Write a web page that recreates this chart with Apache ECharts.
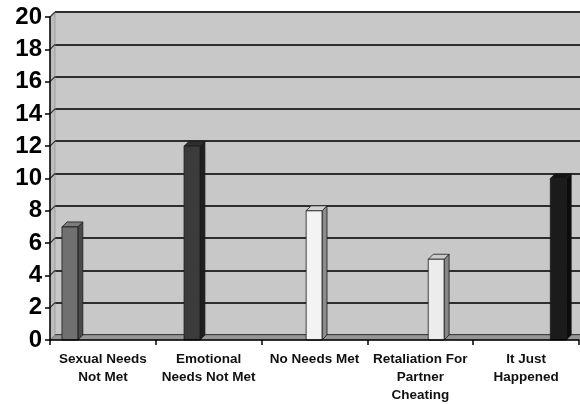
<!DOCTYPE html>
<html>
<head>
<meta charset="utf-8">
<script src="https://cdn.jsdelivr.net/npm/echarts@6/dist/echarts.min.js"></script>
<style>
  html, body { margin: 0; padding: 0; background: #ffffff; }
  #chart { width: 580px; height: 404px; }
</style>
</head>
<body>
<div id="chart"></div>
<script>
// Reasons given, one bar per reason
const categories = [
  'Sexual Needs\nNot Met',
  'Emotional\nNeeds Not Met',
  'No Needs Met',
  'Retaliation For\nPartner\nCheating',
  'It Just\nHappened'
];
const values = [7, 12, 8, 5, 10];
const yTicks = [0, 2, 4, 6, 8, 10, 12, 14, 16, 18, 20];

// front / side / top shades for each bar
const frontColors = ['#707070', '#3b3b3b', '#f3f3f3', '#ececec', '#1b1b1b'];
const sideColors  = ['#4a4a4a', '#1f1f1f', '#8c8c8c', '#868686', '#0c0c0c'];
const topColors   = ['#7c7c7c', '#2e2e2e', '#d2d2d2', '#cacaca', '#141414'];

const DEPTH = 5;          // 3D depth offset in pixels
const SLOT_START = 0.113; // first bar's offset inside a category (fraction)
const SLOT = 0.154;       // slot width per series (fraction of category)
const BAR_W = 0.15;       // front face width (fraction of category)

const chart = echarts.init(document.getElementById('chart'), null, { renderer: 'canvas' });

function renderBar(params, api) {
  const cat = api.value(0);
  const val = api.value(1);
  const s = api.value(2);
  const catW = api.size([1, 0])[0];
  const base = api.coord([cat, 0]);
  const top = api.coord([cat, val]);
  const x0 = base[0] - catW / 2 + catW * SLOT_START + s * catW * SLOT;
  const w = catW * BAR_W;
  const yb = base[1], yt = top[1], d = DEPTH;
  const stroke = { stroke: '#1a1a1a', lineWidth: 0.8 };
  return {
    type: 'group',
    children: [
      {
        type: 'polygon',
        shape: { points: [[x0 + w, yt], [x0 + w + d, yt - d], [x0 + w + d, yb - d], [x0 + w, yb]] },
        style: Object.assign({ fill: sideColors[s] }, stroke)
      },
      {
        type: 'polygon',
        shape: { points: [[x0, yt], [x0 + d, yt - d], [x0 + w + d, yt - d], [x0 + w, yt]] },
        style: Object.assign({ fill: topColors[s] }, stroke)
      },
      {
        type: 'rect',
        shape: { x: x0, y: yt, width: w, height: yb - yt },
        style: Object.assign({ fill: frontColors[s] }, stroke)
      }
    ]
  };
}

// floor and left side wall of the box, plus the side-wall grid lines
function renderFrame(params, api) {
  const v = api.value(0);
  const catW = api.size([1, 0])[0];
  const p0 = api.coord([0, 0]);
  const pv = api.coord([0, v]);
  const xs = p0[0] - catW / 2;
  const d = DEPTH;
  const children = [];
  if (params.dataIndex === 0) {
    const pTop = api.coord([0, 20]);
    const pEnd = api.coord([categories.length - 1, 0]);
    const xe = pEnd[0] + catW / 2;
    children.push({
      type: 'polygon',
      shape: { points: [[xs, pTop[1]], [xs + d, pTop[1] - d], [xs + d, p0[1] - d], [xs, p0[1]]] },
      style: { fill: '#bdbdbd', stroke: '#8a8a8a', lineWidth: 0.6 }
    });
    children.push({
      type: 'polygon',
      shape: { points: [[xs, p0[1]], [xs + d, p0[1] - d], [xe + d, p0[1] - d], [xe, p0[1]]] },
      style: { fill: '#969696', stroke: '#666666', lineWidth: 0.6 }
    });
  }
  if (v > 0) {
    children.push({
      type: 'line',
      shape: { x1: xs, y1: pv[1], x2: xs + d, y2: pv[1] - d },
      style: { stroke: '#333333', lineWidth: 1.2 }
    });
  }
  return { type: 'group', children: children };
}

const option = {
  backgroundColor: '#ffffff',
  animation: false,
  grid: [
    { left: 50, right: 1, top: 17, bottom: 64, containLabel: false },
    { left: 55, right: 0, top: 12, bottom: 69, show: true, borderWidth: 0, backgroundColor: '#c8c8c8', z: 0 }
  ],
  xAxis: [
    {
      type: 'category', gridIndex: 0, data: categories,
      axisLine: { show: true, lineStyle: { color: '#000000', width: 1.5 } },
      axisTick: { show: true, length: 5, lineStyle: { color: '#000000', width: 1.5 } },
      axisLabel: {
        interval: 0, margin: 10, color: '#111111',
        fontFamily: 'Liberation Sans, Arial, sans-serif',
        fontWeight: 'bold', fontSize: 13.5, lineHeight: 18
      },
      z: 5
    },
    { type: 'category', gridIndex: 1, data: categories, show: false }
  ],
  yAxis: [
    {
      type: 'value', gridIndex: 0, min: 0, max: 20, interval: 2,
      axisLine: { show: true, lineStyle: { color: '#000000', width: 1.5 } },
      axisTick: { show: true, length: 5, lineStyle: { color: '#000000', width: 1.5 } },
      axisLabel: {
        margin: 8, color: '#000000',
        fontFamily: 'Liberation Sans, Arial, sans-serif',
        fontWeight: 'bold', fontSize: 24
      },
      splitLine: { show: false },
      z: 5
    },
    {
      type: 'value', gridIndex: 1, min: 0, max: 20, interval: 2,
      axisLine: { show: false }, axisTick: { show: false }, axisLabel: { show: false },
      splitLine: { show: true, lineStyle: { color: '#2e2e2e', width: 1.8 } }
    }
  ],
  series: [
    {
      type: 'custom', name: 'frame', xAxisIndex: 0, yAxisIndex: 0,
      data: yTicks.map(v => [v]),
      encode: { x: -1, y: 0 },
      renderItem: renderFrame,
      silent: true, z: 1, clip: false
    },
    {
      type: 'custom', name: 'bars', xAxisIndex: 0, yAxisIndex: 0,
      data: values.map((v, i) => [i, v, i]),
      encode: { x: 0, y: 1 },
      renderItem: renderBar,
      z: 3, clip: false
    }
  ]
};

chart.setOption(option);
</script>
</body>
</html>
